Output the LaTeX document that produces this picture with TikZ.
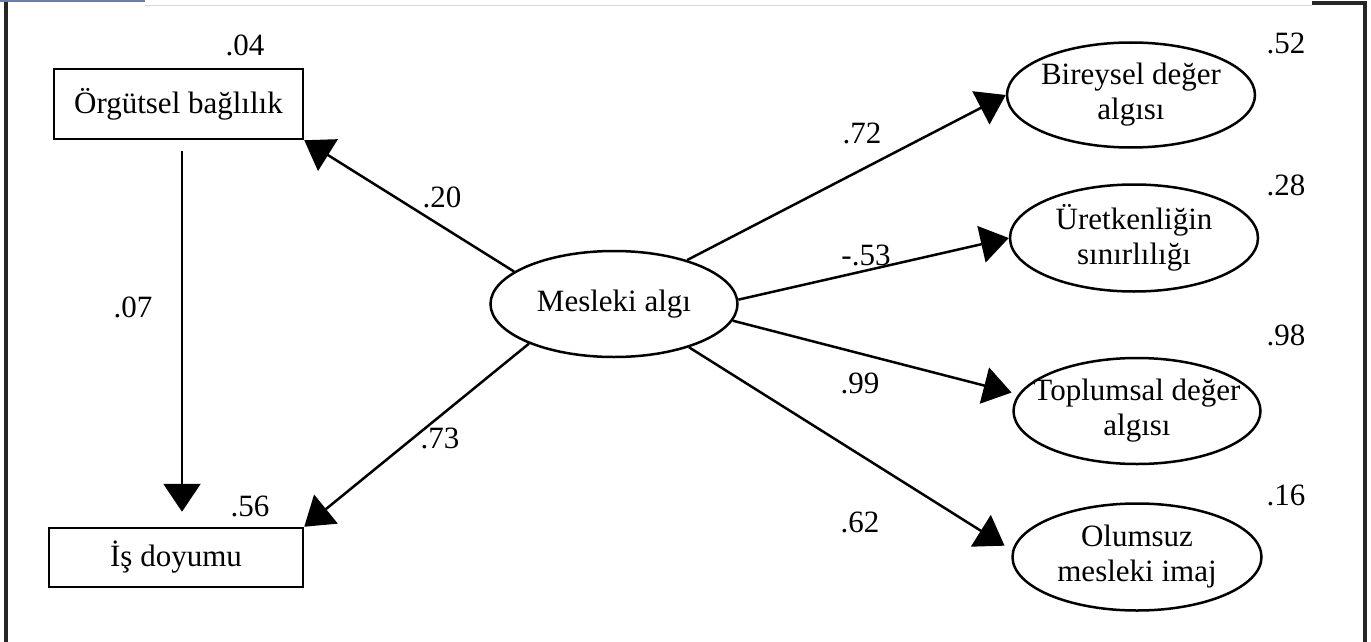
\documentclass[tikz,border=0pt]{standalone}
\usepackage{fontspec}
\setmainfont{Liberation Serif}
\usetikzlibrary{shapes.geometric,arrows.meta}
\begin{document}
\begin{tikzpicture}[x=1pt,y=-1pt,
  every node/.style={font=\fontsize{31}{35}\selectfont},
  boxnode/.style={draw, line width=2.5pt, rectangle, inner sep=0pt},
  ellnode/.style={draw, line width=2.5pt, ellipse, inner sep=0pt},
  etext/.style={inner sep=0pt, align=center},
  lbl/.style={inner sep=0pt},
  conn/.style={line width=2.5pt, -{Triangle[length=28pt,width=37pt]}},
  frameline/.style={line width=4pt, black!85}
]
\useasboundingbox (0,0) rectangle (1371,642);
% frame
\fill[fill={rgb,255:red,110;green,125;blue,168}] (0,0) rectangle (145,2);
\draw[line width=1pt, black!15] (145,5.5) -- (1312,5.5);
\draw[frameline] (6,2) -- (6,642);
\draw[frameline] (1312,3) -- (1365,3) -- (1365,642);
% nodes
\node[boxnode, minimum width=249pt, minimum height=70pt] (o) at (178.5,104) {Örgütsel bağlılık};
\node[boxnode, minimum width=254pt, minimum height=59pt] (i) at (176,557.5) {İş doyumu};
\node[ellnode, minimum width=247pt, minimum height=106pt] (m) at (614,304) {};
\node[etext] (mt) at (m) {Mesleki algı};
\node[ellnode, minimum width=248pt, minimum height=105pt] (b) at (1131,95) {};
\node[etext] (bt) at (b) {Bireysel değer\\algısı};
\node[ellnode, minimum width=248pt, minimum height=107pt] (u) at (1134,238) {};
\node[etext] (ut) at (u) {Üretkenliğin\\sınırlılığı};
\node[ellnode, minimum width=247pt, minimum height=106pt] (t) at (1137,411) {};
\node[etext] (tt) at (t) {Toplumsal değer\\algısı};
\node[ellnode, minimum width=249pt, minimum height=107pt] (ol) at (1137,557) {};
\node[etext] (olt) at (ol) {Olumsuz\\mesleki imaj};
% connectors
\draw[conn] (m.162) -- (o.south east);
\draw[conn] (m.205) -- (i.north east);
\draw[conn, shorten <=11pt, shorten >=15pt] ([xshift=3.5pt]o.south) -- ([xshift=6pt]i.north);
\draw[conn] (m.31) -- (b.west);
\draw[conn] (m.2) -- (u.west);
\draw[conn, shorten >=7pt] (m.352) -- (t.172);
\draw[conn, shorten >=9pt] (m.330) -- (ol.177);
% labels
\node[lbl] (l04) at (245,45) {.04};
\node[lbl] (l56) at (250,506) {.56};
\node[lbl] (l07) at (133,307) {.07};
\node[lbl] (l20) at (442,197) {.20};
\node[lbl] (l73) at (440,438) {.73};
\node[lbl] (l72) at (862,133) {.72};
\node[lbl] (l53) at (866,255) {-.53};
\node[lbl] (l99) at (860,383) {.99};
\node[lbl] (l62) at (860,522) {.62};
\node[lbl] (l52) at (1286,43) {.52};
\node[lbl] (l28) at (1286,185) {.28};
\node[lbl] (l98) at (1286,335) {.98};
\node[lbl] (l16) at (1286,495) {.16};
\end{tikzpicture}
\end{document}
